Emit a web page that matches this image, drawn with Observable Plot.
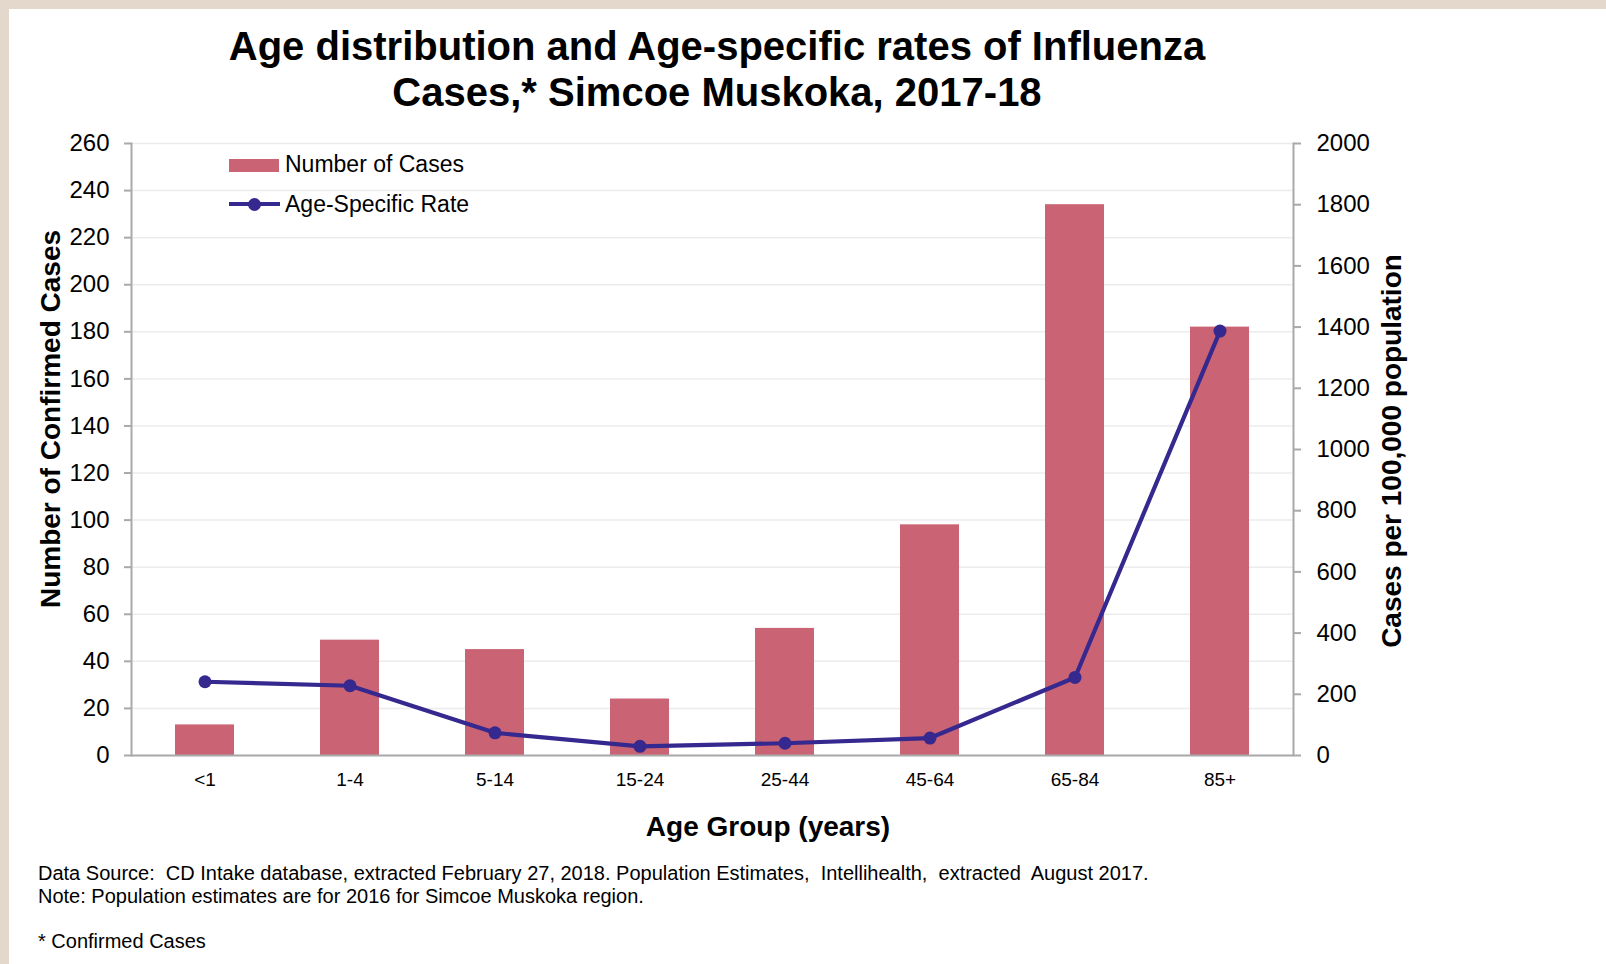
<!DOCTYPE html>
<html><head><meta charset="utf-8">
<script src="https://cdn.jsdelivr.net/npm/d3@7"></script>
<script src="https://cdn.jsdelivr.net/npm/@observablehq/plot@0.6"></script>
<style>
html,body{margin:0;padding:0;}
body{width:1606px;height:964px;background:#e4d7cb;position:relative;overflow:hidden;font-family:"Liberation Sans",Arial,sans-serif;color:#000;}
#panel{position:absolute;left:9px;top:9px;right:0;bottom:0;background:#fff;}
#chart{position:absolute;left:0;top:0;}
.t{position:absolute;white-space:pre;line-height:1;}
.sw{position:absolute;}
</style></head><body>
<div id="panel"></div>
<div id="chart"></div>
<script>
const categories = ["<1","1-4","5-14","15-24","25-44","45-64","65-84","85+"];
const cases = [13,49,45,24,54,98,234,182];
const rates = [241,228,74,30,40,57,255,1387];
const leftTicks = [0,20,40,60,80,100,120,140,160,180,200,220,240,260];
const rightTicks = [0,200,400,600,800,1000,1200,1400,1600,1800,2000];
const leftMax = 260, rightMax = 2000;
const titleLines = ["Age distribution and Age-specific rates of Influenza","Cases,* Simcoe Muskoka, 2017-18"];
const yLeftTitle = "Number of Confirmed Cases";
const yRightTitle = "Cases per 100,000 population";
const xTitle = "Age Group (years)";
const legendLabels = ["Number of Cases","Age-Specific Rate"];
const notes = ["Data Source:  CD Intake database, extracted February 27, 2018. Population Estimates,  Intellihealth,  extracted  August 2017.",
  "Note: Population estimates are for 2016 for Simcoe Muskoka region.",
  "* Confirmed Cases"];

const barColor = "#ca6474", lineColor = "#35288f", axisGray = "#a9a9a9";
const k = leftMax / rightMax;
const data = categories.map((c,i)=>({group:c, cases:cases[i], rate:rates[i], rateScaled:rates[i]*k}));

const plot = Plot.plot({
  width:1606, height:800,
  marginLeft:131, marginRight:313, marginTop:143, marginBottom:45,
  style:{background:"transparent", fontFamily:"'Liberation Sans', Arial, sans-serif", fontSize:"24px", color:"#000", overflow:"visible"},
  x:{type:"band", domain:categories, paddingInner:0.59, paddingOuter:0.295},
  y:{domain:[0,leftMax]},
  marks:[
    Plot.gridY(leftTicks, {stroke:"#ececec", strokeOpacity:1, strokeWidth:1.5}),
    Plot.barY(data, {x:"group", y:"cases", fill:barColor}),
    Plot.frame({anchor:"left", stroke:axisGray, strokeWidth:2}),
    Plot.frame({anchor:"right", stroke:axisGray, strokeWidth:2}),
    Plot.ruleY([0], {stroke:axisGray, strokeWidth:2}),
    Plot.axisY(leftTicks, {anchor:"left", tickSize:7, tickPadding:15, stroke:axisGray, strokeWidth:2, fill:"#000", label:null, fontSize:24}),
    Plot.axisY(rightTicks.map(v=>v*k), {anchor:"right", tickSize:7, tickPadding:16, stroke:axisGray, strokeWidth:2, fill:"#000", label:null, fontSize:24, tickFormat:d=>String(Math.round(d/k))}),
    Plot.axisX({anchor:"bottom", tickSize:0, tickPadding:17, fill:"#000", label:null, fontSize:19}),
    Plot.line(data, {x:"group", y:"rateScaled", stroke:lineColor, strokeWidth:4.2}),
    Plot.dot(data, {x:"group", y:"rateScaled", r:6.5, fill:lineColor, stroke:"none"})
  ]
});
document.getElementById("chart").appendChild(plot);

function addText(str, {x, baseline, size, bold=false, anchor="start", rotate=0, cy}) {
  const d = document.createElement("div");
  d.className = "t";
  d.textContent = str;
  d.style.fontSize = size+"px";
  if (bold) d.style.fontWeight = "bold";
  document.body.appendChild(d);
  if (rotate) {
    d.style.left = x+"px"; d.style.top = cy+"px";
    d.style.transform = "translate(-50%,-50%) rotate("+rotate+"deg)";
  } else {
    const w = d.getBoundingClientRect().width;
    let left = x;
    if (anchor==="middle") left = x - w/2;
    d.style.left = left+"px";
    d.style.top = (baseline - 0.8465*size)+"px";
  }
  return d;
}
addText(titleLines[0], {x:717, baseline:60, size:40, bold:true, anchor:"middle"});
addText(titleLines[1], {x:717, baseline:106, size:40, bold:true, anchor:"middle"});
addText(yLeftTitle, {x:51, cy:419, size:28, bold:true, rotate:-90});
addText(yRightTitle, {x:1392, cy:451, size:28, bold:true, rotate:-90});
addText(xTitle, {x:768, baseline:837, size:28, bold:true, anchor:"middle"});
addText(legendLabels[0], {x:285, baseline:172, size:23});
addText(legendLabels[1], {x:285, baseline:212, size:23});
addText(notes[0], {x:38, baseline:880, size:20});
addText(notes[1], {x:38, baseline:903, size:20});
addText(notes[2], {x:38, baseline:948, size:20});

function box(l,t,w,h,c,r){const e=document.createElement("div");e.className="sw";Object.assign(e.style,{left:l+"px",top:t+"px",width:w+"px",height:h+"px",background:c});if(r)e.style.borderRadius="50%";document.body.appendChild(e);}
box(229,159,50,13,barColor);
box(229,202,51,4,lineColor);
box(247.5,197.5,13,13,lineColor,true);
</script>
</body></html>
